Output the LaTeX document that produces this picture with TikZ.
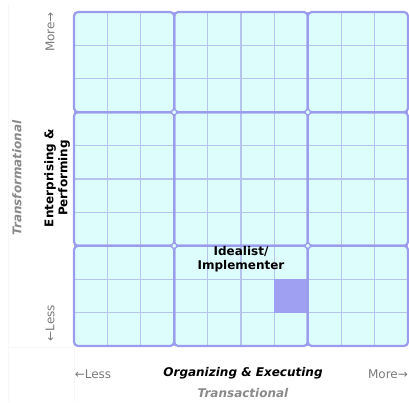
\documentclass[tikz,border=0pt]{standalone}
\usepackage{fontspec}
\setmainfont{DejaVu Sans}
\usepackage{tikz}
\definecolor{blockline}{HTML}{9C9CEC}
\definecolor{cellfill}{HTML}{DDFCFC}
\definecolor{gridline}{HTML}{B4C4EC}
\definecolor{markfill}{HTML}{A0A0F2}
\definecolor{axisgray}{HTML}{7A7A7A}
\definecolor{titlegray}{HTML}{8A8A8A}
\tikzset{
	block/.style={draw=blockline,line width=2.2pt,rounded corners=4pt},
	joint/.style={circle,draw=blockline,fill=cellfill,line width=1pt,inner sep=0pt,minimum size=5pt},
	axis/.style={text=axisgray,font=\fontsize{12}{14}\selectfont},
	title/.style={font=\fontsize{12}{14}\selectfont\bfseries\itshape},
	side/.style={text=titlegray,font=\fontsize{12}{14}\selectfont\bfseries\itshape}
}

\begin{document}
\begin{tikzpicture}[x=33.4pt,y=33.4pt]
						\useasboundingbox (-74pt,-56pt) rectangle (335pt,346pt);
						\draw[gray!6] (-66pt,-56pt) -- (-66pt,341pt);
						\draw[gray!6] (-66pt,-1pt) -- (0pt,-1pt) -- (0pt,-56pt);

						% blocks
						\foreach \xa/\xb in {0/3,3/7,7/10}
							\foreach \ya/\yb in {0/3,3/7,7/10}
								\fill[cellfill,rounded corners=4pt] (\xa,\ya) rectangle (\xb,\yb);
						\foreach \i in {1,...,9} {
							\draw[gridline,line width=1.2pt] (\i,0) -- (\i,10);
							\draw[gridline,line width=1.2pt] (0,\i) -- (10,\i);
						}
						\fill[markfill] (6,1) rectangle (7,2);
						\foreach \xa/\xb in {0/3,3/7,7/10}
							\foreach \ya/\yb in {0/3,3/7,7/10}
								\draw[block] (\xa,\ya) rectangle (\xb,\yb);
						\node[joint] (j1) at (3,3) {};
						\node[joint] (j2) at (7,3) {};
						\node[joint] (j3) at (3,7) {};
						\node[joint] (j4) at (7,7) {};

						% labels
						\node[axis,rotate=90] (ymore) at (-24pt,314pt) {More→};
						\node[axis,rotate=90] (yless) at (-24pt,23pt) {←Less};
						\node[axis] (xless) at (19pt,-28pt) {←Less};
						\node[axis] (xmore) at (314pt,-28pt) {More→};
						\node[title] (xtitle) at (169pt,-27pt) {Organizing \& Executing};
						\node[side] (xside) at (169pt,-47pt) {Transactional};
						\node[font=\fontsize{12}{14}\selectfont\bfseries,rotate=90,align=center] (ytitle) at (-17pt,168pt) {Enterprising \&\\Performing};
						\node[side,rotate=90] (yside) at (-57pt,168pt) {Transformational};
						\node[font=\fontsize{12}{14}\selectfont\bfseries,align=center] (role) at (167pt,87pt) {Idealist/\\Implementer};
					\end{tikzpicture}
\end{document}
